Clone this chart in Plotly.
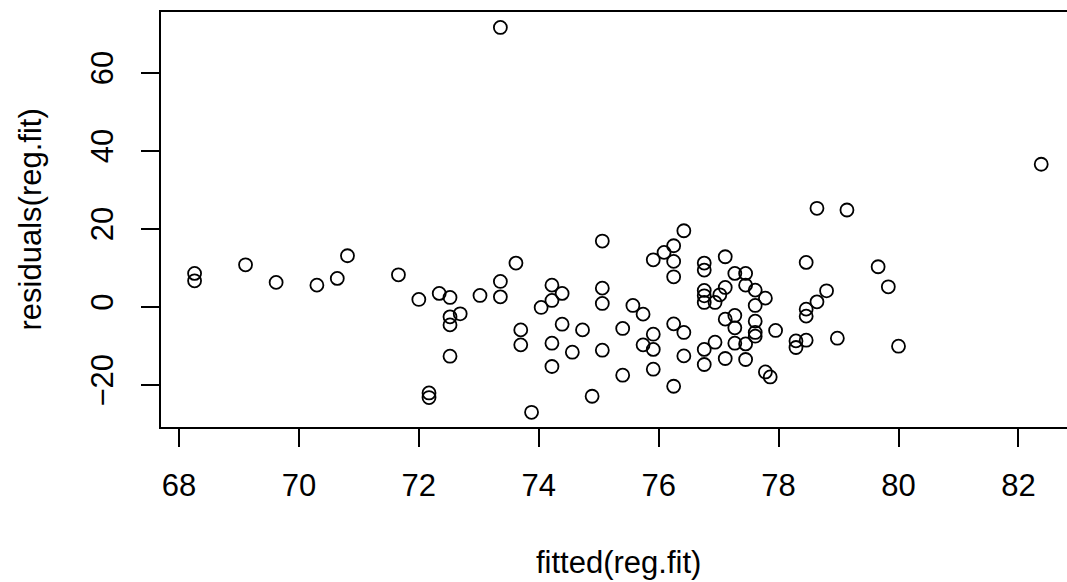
import plotly.graph_objects as go

fitted = [68.26, 68.26, 69.11, 69.62, 70.30, 70.64, 70.81, 71.66, 72.00, 72.34,
          72.52, 72.52, 72.52, 72.69, 72.52, 72.17, 72.17, 73.02, 73.36, 73.36,
          73.36, 73.62, 73.70, 73.70, 73.88, 74.04, 74.22, 74.22, 74.39, 74.39,
          74.22, 74.22, 74.56, 74.73, 74.89, 75.06, 75.06, 75.06, 75.06, 75.40,
          75.40, 75.57, 75.74, 75.74, 75.91, 75.91, 75.91, 75.91, 76.09, 76.25,
          76.25, 76.25, 76.25, 76.25, 76.42, 76.42, 76.42, 76.76, 76.76, 76.76,
          76.76, 76.76, 76.76, 76.76, 76.94, 76.94, 77.02, 77.11, 77.11, 77.11,
          77.11, 77.27, 77.27, 77.27, 77.27, 77.45, 77.45, 77.45, 77.45, 77.61,
          77.78, 77.61, 77.61, 77.61, 77.61, 77.78, 77.86, 77.95, 78.29, 78.29,
          78.46, 78.46, 78.46, 78.46, 78.64, 78.64, 78.80, 78.98, 79.14, 79.66,
          79.83, 80.00, 82.38]

residuals = [8.56, 6.67, 10.77, 6.26, 5.56, 7.28, 13.08, 8.21, 1.90, 3.44,
             2.41, -2.56, -4.62, -1.79, -12.64, -22.05, -23.23, 2.92, 6.51, 2.56,
             71.54, 11.20, -5.90, -9.74, -27.00, -0.15, 5.56, 1.64, 3.44, -4.44,
             -9.31, -15.28, -11.62, -5.90, -22.90, 16.85, 4.79, 0.87, -11.10, -5.54,
             -17.51, 0.36, -1.87, -9.74, 12.05, -7.00, -10.90, -15.97, 13.95, 15.64,
             11.64, 7.69, -4.36, -20.33, 19.49, -6.56, -12.56, 11.20, 9.41, 4.20,
             2.82, 1.13, -10.90, -14.77, 1.13, -9.05, 3.08, 12.82, 4.97, -3.15,
             -13.23, 8.56, -2.21, -5.38, -9.31, 8.56, 5.56, -9.49, -13.49, 4.28,
             2.23, 0.36, -3.67, -6.56, -7.51, -16.67, -17.95, -6.05, -8.72, -10.41,
             11.38, -0.59, -2.38, -8.54, 25.23, 1.28, 4.10, -8.03, 24.80, 10.26,
             5.13, -10.08, 36.51]

x_ticks = [68, 70, 72, 74, 76, 78, 80, 82]
y_ticks = [-20, 0, 20, 40, 60]

FONT = "Liberation Sans, Arial, sans-serif"
FS = 31

fig = go.Figure()
fig.add_trace(go.Scatter(
    x=fitted, y=residuals, mode="markers",
    marker=dict(symbol="circle-open", size=13, color="black",
                line=dict(width=1.8, color="black")),
    showlegend=False, hoverinfo="x+y",
))

fig.update_layout(
    width=1067, height=582,
    margin=dict(l=161, r=0, t=12, b=155, autoexpand=False),
    paper_bgcolor="white", plot_bgcolor="white",
    font=dict(family=FONT, size=FS, color="black"),
    xaxis=dict(
        range=[67.70, 82.81], tickvals=x_ticks, ticktext=[str(v) for v in x_ticks],
        showgrid=False, zeroline=False, showline=True, linecolor="black",
        linewidth=1.5, mirror=True, ticks="outside", ticklen=18, tickwidth=1.5,
        tickcolor="black", ticklabelstandoff=12,
        tickfont=dict(family=FONT, size=FS, color="black"),
    ),
    yaxis=dict(
        range=[-30.77, 75.5], tickvals=y_ticks, ticktext=[str(v).replace("-", "\u2212") for v in y_ticks],
        showgrid=False, zeroline=False, showline=True, linecolor="black",
        linewidth=1.5, mirror=False, ticks="outside", ticklen=18, tickwidth=1.5,
        tickcolor="black", tickangle=-90, ticklabelstandoff=16,
        tickfont=dict(family=FONT, size=FS, color="black"),
    ),
    annotations=[
        dict(text="fitted(reg.fit)", xref="paper", yref="paper",
             x=(618 - 161) / 906, y=(426.7 - 562) / 414.4,
             xanchor="center", yanchor="middle", showarrow=False,
             font=dict(family=FONT, size=FS, color="black")),
        dict(text="residuals(reg.fit)", xref="paper", yref="paper",
             x=(30 - 161) / 906, y=0.5, textangle=-90,
             xanchor="center", yanchor="middle", showarrow=False,
             font=dict(family=FONT, size=FS, color="black")),
    ],
)

fig.write_html("out.html", config={"displayModeBar": False},
               post_script="document.body.style.margin='0';document.body.style.overflow='hidden';")
